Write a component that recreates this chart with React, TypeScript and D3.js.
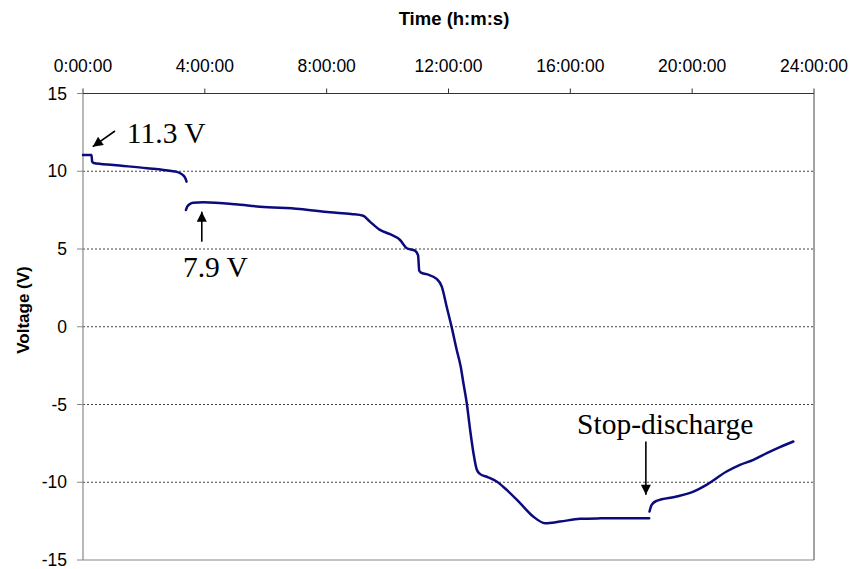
import React from 'react';
import * as d3 from 'd3';

// ---- Axis / tick data ----
const xTickHours = [0, 4, 8, 12, 16, 20, 24];
const xTickLabels = ['0:00:00', '4:00:00', '8:00:00', '12:00:00', '16:00:00', '20:00:00', '24:00:00'];
const yTickValues = [15, 10, 5, 0, -5, -10, -15];
const gridValues = [10, 5, 0, -5, -10];

// ---- Series data (time in hours, voltage in V) ----
const seg1Hours = [0.0, 0.28, 0.3, 0.35, 1.0, 2.1, 2.9, 3.08, 3.22, 3.3, 3.36, 3.4];
const seg1Volts = [11.05, 11.05, 10.62, 10.53, 10.4, 10.2, 10.02, 9.96, 9.84, 9.72, 9.55, 9.33];

const seg2Hours = [3.38, 3.42, 3.5, 3.62, 3.95, 5.0, 5.81, 7.12, 8.11, 8.8, 9.2, 9.42, 9.75, 10.08, 10.41, 10.63, 10.9, 11.0, 11.04, 11.1, 11.28, 11.61, 11.78, 11.94, 12.1, 12.27, 12.4, 12.49, 12.6, 12.71, 12.82, 12.93, 13.03, 13.3, 13.58, 13.91, 14.35, 14.78, 15.17, 15.66, 16.32, 17.0, 17.63, 18.59];
const seg2Volts = [7.51, 7.72, 7.88, 7.98, 8.0, 7.88, 7.72, 7.57, 7.36, 7.25, 7.14, 6.76, 6.23, 5.95, 5.58, 5.05, 4.9, 4.6, 3.6, 3.48, 3.38, 3.08, 2.58, 1.29, 0.01, -1.49, -2.56, -3.63, -4.92, -6.63, -8.13, -9.2, -9.46, -9.68, -9.95, -10.49, -11.34, -12.2, -12.63, -12.53, -12.35, -12.32, -12.31, -12.31];

const seg3Hours = [18.6, 18.67, 18.83, 19.49, 20.04, 20.47, 21.13, 21.57, 22.01, 22.45, 22.88, 23.32];
const seg3Volts = [-11.88, -11.45, -11.2, -10.92, -10.6, -10.17, -9.31, -8.88, -8.56, -8.13, -7.74, -7.38];

// ---- Annotations (data units) ----
const annTexts = ['11.3 V', '7.9 V', 'Stop-discharge'];
const annTextHours = [1.44, 3.28, 16.22];
const annTextVolts = [11.82, 3.2, -6.89];
const arrowTailHours = [1.05, 3.9, 18.48];
const arrowTailVolts = [12.59, 5.47, -7.38];
const arrowTipHours = [0.32, 3.9, 18.48];
const arrowTipVolts = [11.58, 7.4, -10.81];

const xTitle = 'Time (h:m:s)';
const yTitle = 'Voltage (V)';

const W = 854;
const H = 569;

export default function App() {
  const x = d3.scaleLinear().domain([0, 24]).range([83, 814]);
  const y = d3.scaleLinear().domain([-15, 15]).range([560, 93.5]);

  const line = d3
    .line<[number, number]>()
    .x((d) => x(d[0]))
    .y((d) => y(d[1]))
    .curve(d3.curveMonotoneX);

  const segs: [number, number][][] = [
    seg1Hours.map((h, i) => [h, seg1Volts[i]] as [number, number]),
    seg2Hours.map((h, i) => [h, seg2Volts[i]] as [number, number]),
    seg3Hours.map((h, i) => [h, seg3Volts[i]] as [number, number]),
  ];

  const [x0, x1] = x.range();
  const [yb, yt] = y.range();
  const sans = '"Liberation Sans", Arial, sans-serif';
  const serif = '"Liberation Serif", "Times New Roman", serif';

  return (
    <svg
      width={W}
      height={H}
      style={{ position: 'absolute', left: 0, top: 0, background: '#fff' }}
    >
      <defs>
        <marker
          id="ah"
          viewBox="0 0 10 10"
          refX="10"
          refY="5"
          markerWidth="11"
          markerHeight="10"
          markerUnits="userSpaceOnUse"
          orient="auto"
        >
          <path d="M0,0 L10,5 L0,10 Z" fill="#000" />
        </marker>
      </defs>
      <rect x={0} y={0} width={W} height={H} fill="#fff" />

      {/* gridlines */}
      {gridValues.map((v) => (
        <line
          key={'g' + v}
          x1={x0}
          x2={x1}
          y1={y(v)}
          y2={y(v)}
          stroke="#444"
          strokeWidth={1}
          strokeDasharray="2,2"
        />
      ))}

      {/* frame */}
      <line x1={x0} x2={x0} y1={yt} y2={yb} stroke="#888" strokeWidth={1.2} />
      <line x1={x0} x2={x1} y1={yb} y2={yb} stroke="#888" strokeWidth={1.2} />
      <line x1={x1} x2={x1} y1={yt} y2={yb} stroke="#666" strokeWidth={1.2} />
      <line x1={x0} x2={x1} y1={yt} y2={yt} stroke="#333" strokeWidth={1.2} />

      {/* top x ticks */}
      {xTickHours.map((h, i) => (
        <g key={'xt' + h}>
          <line x1={x(h)} x2={x(h)} y1={yt} y2={yt - 5} stroke="#333" strokeWidth={1} />
          <text
            x={x(h)}
            y={72}
            textAnchor="middle"
            fontFamily={sans}
            fontSize={17.5}
            fill="#000"
          >
            {xTickLabels[i]}
          </text>
        </g>
      ))}

      {/* left y ticks */}
      {yTickValues.map((v) => (
        <g key={'yt' + v}>
          <line x1={x0 - 6} x2={x0} y1={y(v)} y2={y(v)} stroke="#888" strokeWidth={1} />
          <text
            x={67}
            y={y(v)}
            dy="0.35em"
            textAnchor="end"
            fontFamily={sans}
            fontSize={17.5}
            fill="#000"
          >
            {v}
          </text>
        </g>
      ))}

      {/* titles */}
      <text
        x={454}
        y={25}
        textAnchor="middle"
        fontFamily={sans}
        fontWeight="bold"
        fontSize={18.5}
        fill="#000"
      >
        {xTitle}
      </text>
      <text
        transform={`translate(29, 310) rotate(-90)`}
        textAnchor="middle"
        fontFamily={sans}
        fontWeight="bold"
        fontSize={17}
        fill="#000"
      >
        {yTitle}
      </text>

      {/* series */}
      {segs.map((s, i) => (
        <path
          key={'s' + i}
          d={line(s) || ''}
          fill="none"
          stroke="#0b0b7d"
          strokeWidth={2.5}
          strokeLinejoin="round"
          strokeLinecap="round"
        />
      ))}

      {/* annotations */}
      {annTexts.map((t, i) => (
        <g key={'a' + i}>
          <line
            x1={x(arrowTailHours[i])}
            y1={y(arrowTailVolts[i])}
            x2={x(arrowTipHours[i])}
            y2={y(arrowTipVolts[i])}
            stroke="#000"
            strokeWidth={1.6}
            markerEnd="url(#ah)"
          />
          <text
            x={x(annTextHours[i])}
            y={y(annTextVolts[i])}
            fontFamily={serif}
            fontSize={29.5}
            fill="#000"
          >
            {t}
          </text>
        </g>
      ))}
    </svg>
  );
}
